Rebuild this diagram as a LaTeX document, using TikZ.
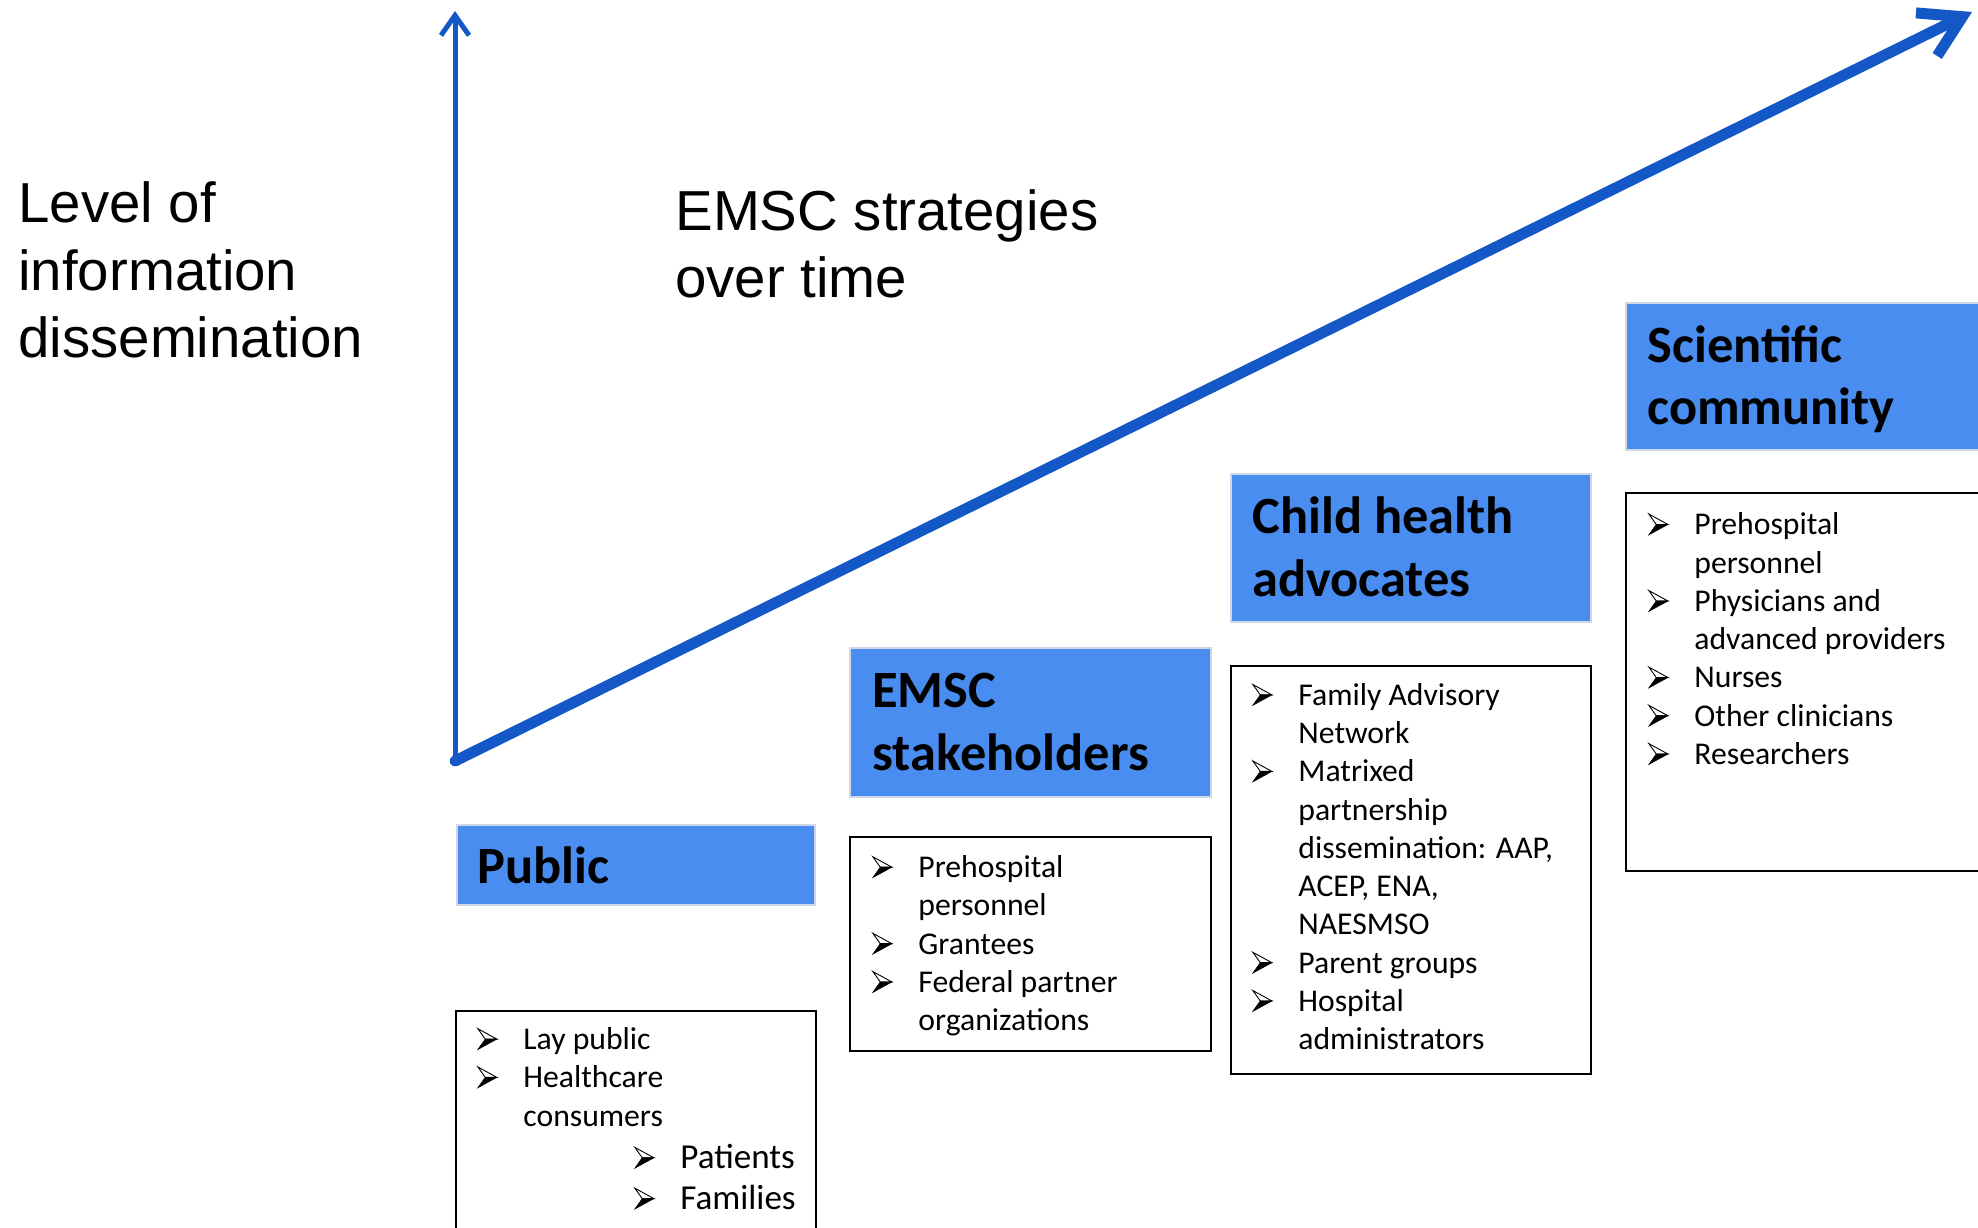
\documentclass[tikz,border=0pt]{standalone}
\usepackage{fontspec}
\setmainfont{Carlito}
\newfontfamily\arialf{Liberation Sans}
\usetikzlibrary{arrows.meta}
\definecolor{hblue}{RGB}{74,141,240}
\definecolor{axblue}{RGB}{20,88,200}
\definecolor{hedge}{RGB}{205,215,232}
\newcommand{\arrowbullet}{\tikz[baseline=0pt,x=1bp,y=1bp,line join=miter]{%
  \filldraw[black,line width=0.3bp] (0,0) -- (9.5,5.2) -- (3.7,5.2) -- cycle;
  \draw[black,line width=0.45bp] (0,10.4) -- (9.5,5.2) -- (3.7,5.2) -- cycle;}}
\newcommand{\bl}{\makebox[23bp][l]{\arrowbullet}}
\newcommand{\ind}{\hspace*{23bp}}
\begin{document}
\begin{tikzpicture}[x=0.5bp,y=-0.5bp,
  big/.style={font=\arialf\fontsize{28.3}{34}\selectfont, align=left, inner sep=0, anchor=base west},
  hdrbox/.style={fill=hblue, draw=hedge, line width=0.75bp},
  hdrtxt/.style={font=\bfseries\fontsize{26.3}{31.5}\selectfont, align=left, inner sep=0, anchor=base west},
  lstbox/.style={draw=black, line width=1.2bp},
  lsttxt/.style={font=\fontsize{15.9}{19.2}\selectfont, align=left, inner sep=0, anchor=base west},
  axis/.style={draw=axblue, line cap=round}]
\useasboundingbox (0,0) rectangle (1978,1228);
\fill[white] (0,0) rectangle (1978,1228);

% axes
\coordinate (o) at (455,761);
\coordinate (ytop) at (455,11);
\coordinate (dtip) at (1972,12);
\draw[axis, line width=2.5bp, -{Straight Barb[length=10bp,width=14bp]}] (o) -- (ytop);
\draw[axis, line width=5.5bp, -{Straight Barb[length=20bp,width=24bp]}] (o) -- (dtip);

% axis texts (multi-line nodes: anchor at baseline of last line)
\node[big] (ylab) at (18,358) {Level of\\information\\dissemination};
\node[big] (xlab) at (675,298) {EMSC strategies\\over time};

% headers
\draw[hdrbox] (457,825) rectangle (815,905);
\node[hdrtxt] (h1) at (477,883) {Public};
\draw[hdrbox] (850,648) rectangle (1211,797);
\node[hdrtxt] (h2) at (872,770) {EMSC\\stakeholders};
\draw[hdrbox] (1231,474) rectangle (1591,622);
\node[hdrtxt] (h3) at (1252,596) {Child health\\advocates};
\draw[hdrbox] (1626,303) rectangle (1995,450);
\node[hdrtxt] (h4) at (1647,425) {Scientific\\community};

% lists
\draw[lstbox] (456,1011) rectangle (816,1245);
\node[lsttxt] (l1) at (477,1126) {\bl Lay public\\\bl Healthcare\\\ind consumers};
\node[lsttxt, font=\fontsize{17.6}{20.5}\selectfont] (l1b) at (634,1209) {\bl Patients\\\bl Families};

\draw[lstbox] (850,837) rectangle (1211,1051);
\node[lsttxt] (l2) at (872,1030.6) {\bl Prehospital\\\ind personnel\\\bl Grantees\\\bl Federal partner\\\ind organizations};

\draw[lstbox] (1231,666) rectangle (1591,1074);
\node[lsttxt] (l3) at (1252,1049.6) {\bl Family Advisory\\\ind Network\\\bl Matrixed\\\ind partnership\\\ind dissemination: AAP,\\\ind ACEP, ENA,\\\ind NAESMSO\\\bl Parent groups\\\bl Hospital\\\ind administrators};

\draw[lstbox] (1626,493) rectangle (1995,871);
\node[lsttxt] (l4) at (1648,764.4) {\bl Prehospital\\\ind personnel\\\bl Physicians and\\\ind advanced providers\\\bl Nurses\\\bl Other clinicians\\\bl Researchers};
\end{tikzpicture}
\end{document}
